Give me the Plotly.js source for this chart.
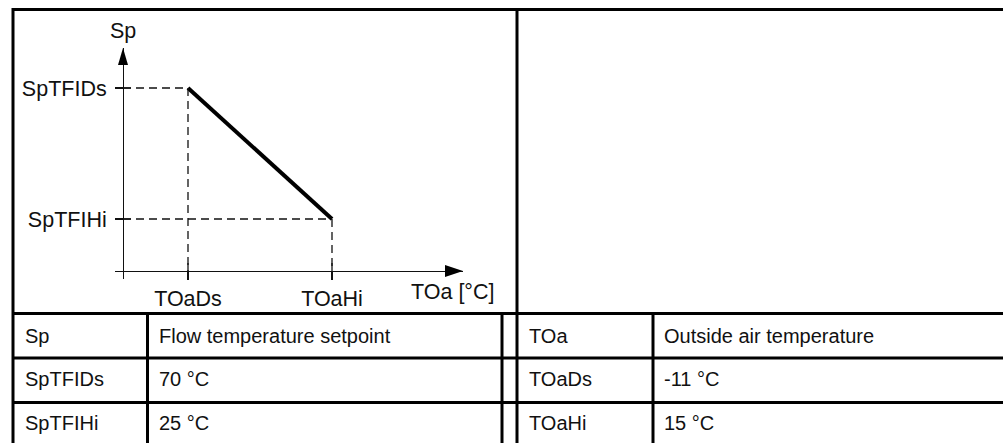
<!DOCTYPE html>
<html>
<head>
<meta charset="utf-8">
<script src="https://cdn.plot.ly/plotly-3.0.1.min.js"></script>
<style>
  html, body { margin: 0; padding: 0; background: #fff; }
  #chart { width: 1003px; height: 443px; }
</style>
</head>
<body>
<div id="chart"></div>
<script>
// valores del diagrama (tabla de leyenda)
var toa = [-11, 15];
var toaLabels = ["TOaDs", "TOaHi"];
var sp = [70, 25];
var spLabels = ["SpTFIDs", "SpTFIHi"];

// texto de la tabla
var symLeft = ["Sp", "SpTFIDs", "SpTFIHi"];
var descLeft = ["Flow temperature setpoint", "70 °C", "25 °C"];
var symRight = ["TOa", "TOaDs", "TOaHi"];
var descRight = ["Outside air temperature", "-11 °C", "15 °C"];

var W = 1003, H = 443;
var fuente = "Liberation Sans, Arial, sans-serif";
var negro = "#000";
var tamTabla = 20, tamDiag = 21.5;

function px(x) { return x / W; }
function py(y) { return 1 - y / H; }

// caja del diagrama en pixeles
var axLeft = 115, axRight = 463, axTop = 48, axBottom = 279;
var yAxisPx = 123, xAxisPx = 271;
var x0px = 188, x1px = 332, y0px = 88, y1px = 219;

var pxPerX = (x1px - x0px) / (toa[1] - toa[0]);
var pxPerY = (y1px - y0px) / (sp[0] - sp[1]);
var xRange = [toa[0] - (x0px - axLeft) / pxPerX, toa[1] + (axRight - x1px) / pxPerX];
var yRange = [sp[1] - (axBottom - y1px) / pxPerY, sp[0] + (y0px - axTop) / pxPerY];
var yAxisX = xRange[0] + (yAxisPx - axLeft) / pxPerX;
var xAxisY = yRange[0] + (axBottom - xAxisPx) / pxPerY;

var trace = {
    x: toa,
    y: sp,
    type: "scatter",
    mode: "lines",
    line: { color: negro, width: 4 },
    hoverinfo: "skip",
    cliponaxis: false
};

var shapes = [];
var annotations = [];

// lineas guia discontinuas
for (var i = 0; i < toa.length; i++) {
    shapes.push({
        type: "line", xref: "x", yref: "y",
        x0: yAxisX, x1: toa[i], y0: sp[i], y1: sp[i],
        line: { color: "#111", width: 1.3, dash: "8px,5px" }
    });
    shapes.push({
        type: "line", xref: "x", yref: "y",
        x0: toa[i], x1: toa[i], y0: sp[i], y1: xAxisY,
        line: { color: "#111", width: 1.3, dash: "8px,5px" }
    });
    // parte interior de las marcas
    shapes.push({
        type: "line", xref: "x", yref: "y", xsizemode: "pixel", xanchor: yAxisX,
        x0: 0, x1: 8, y0: sp[i], y1: sp[i],
        line: { color: "#111", width: 1.3 }
    });
    shapes.push({
        type: "line", xref: "x", yref: "y", ysizemode: "pixel", yanchor: xAxisY,
        y0: 0, y1: 8, x0: toa[i], x1: toa[i],
        line: { color: "#111", width: 1.3 }
    });
}

// puntas de flecha
shapes.push({
    type: "path", xref: "x", yref: "y", xsizemode: "pixel", ysizemode: "pixel",
    xanchor: yAxisX, yanchor: yRange[1],
    path: "M -5,-17 L 0,0 L 5,-17 Z",
    fillcolor: negro, line: { width: 0 }
});
shapes.push({
    type: "path", xref: "x", yref: "y", xsizemode: "pixel", ysizemode: "pixel",
    xanchor: xRange[1], yanchor: xAxisY,
    path: "M -18,-6 L 0,0 L -18,6 Z",
    fillcolor: negro, line: { width: 0 }
});

// bordes de la tabla
function hLine(y, xa, xb) {
    shapes.push({ type: "line", xref: "paper", yref: "paper",
        x0: px(xa), x1: px(xb), y0: py(y), y1: py(y),
        line: { color: negro, width: 3 } });
}
function vLine(x, ya, yb) {
    shapes.push({ type: "line", xref: "paper", yref: "paper",
        x0: px(x), x1: px(x), y0: py(ya), y1: py(yb),
        line: { color: negro, width: 3 } });
}
hLine(9.5, 12, 1003);
hLine(313.5, 12, 1003);
hLine(358, 12, 1003);
hLine(402.5, 12, 1003);
vLine(13, 8, 443);
vLine(517, 8, 443);
vLine(147.5, 313, 443);
vLine(502, 313, 443);
vLine(653, 313, 443);

// textos de la tabla
var rowY = [335.5, 378.5, 423];
var colX = [23, 157, 527, 662];
function txt(x, y, s) {
    annotations.push({
        xref: "paper", yref: "paper", x: px(x), y: py(y),
        xanchor: "left", yanchor: "middle", showarrow: false,
        text: s, font: { family: fuente, size: tamTabla, color: "#111" }
    });
}
for (var r = 0; r < 3; r++) {
    txt(colX[0], rowY[r], symLeft[r]);
    txt(colX[1], rowY[r], descLeft[r]);
    txt(colX[2], rowY[r], symRight[r]);
    txt(colX[3], rowY[r], descRight[r]);
}

// titulos de los ejes
annotations.push({
    xref: "paper", yref: "paper", x: px(yAxisPx), y: py(31),
    xanchor: "center", yanchor: "middle", showarrow: false,
    text: "Sp", font: { family: fuente, size: tamDiag, color: "#111" }
});
annotations.push({
    xref: "paper", yref: "paper", x: px(452), y: py(292),
    xanchor: "center", yanchor: "middle", showarrow: false,
    text: "TOa [°C]", font: { family: fuente, size: tamDiag, color: "#111" }
});

var layout = {
    width: W,
    height: H,
    margin: { l: 0, r: 0, t: 0, b: 0 },
    paper_bgcolor: "#fff",
    plot_bgcolor: "rgba(0,0,0,0)",
    showlegend: false,
    hovermode: false,
    font: { family: fuente, size: tamDiag, color: "#111" },
    xaxis: {
        domain: [px(axLeft), px(axRight)],
        range: xRange,
        anchor: "free",
        position: py(xAxisPx),
        showline: true, linecolor: "#111", linewidth: 1.3,
        ticks: "outside", ticklen: 8, tickwidth: 1.3, tickcolor: "#111",
        tickvals: toa, ticktext: toaLabels,
        showgrid: false, zeroline: false,
        tickfont: { family: fuente, size: tamDiag, color: "#111" }
    },
    yaxis: {
        domain: [py(axBottom), py(axTop)],
        range: yRange,
        anchor: "free",
        position: px(yAxisPx),
        showline: true, linecolor: "#111", linewidth: 1.3,
        ticks: "outside", ticklen: 8, tickwidth: 1.3, tickcolor: "#111",
        ticklabelstandoff: 4,
        tickvals: sp, ticktext: spLabels,
        showgrid: false, zeroline: false,
        tickfont: { family: fuente, size: tamDiag, color: "#111" }
    },
    shapes: shapes,
    annotations: annotations
};

Plotly.newPlot("chart", [trace], layout, { staticPlot: true, responsive: false });
</script>
</body>
</html>
